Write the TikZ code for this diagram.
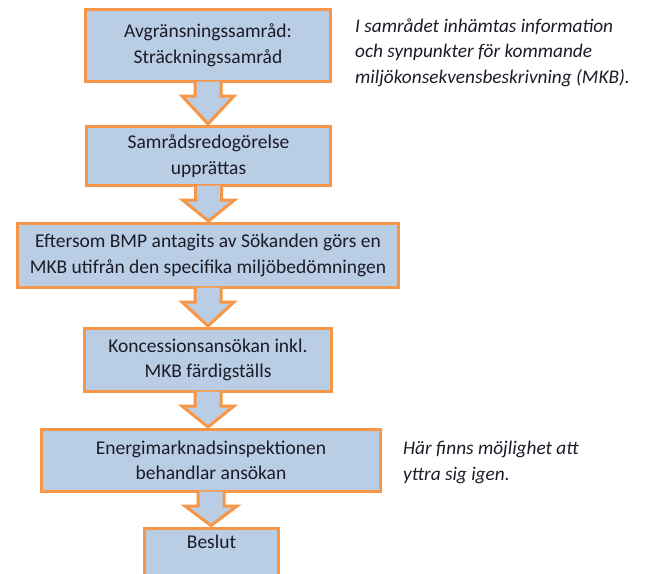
\documentclass[tikz,border=0pt]{standalone}
\usepackage{fontspec}
\setmainfont{Carlito}
\usetikzlibrary{calc}

\definecolor{stepfill}{HTML}{B9CDE5}
\definecolor{stepline}{HTML}{F79646}
\definecolor{steptext}{HTML}{1C1C28}

% block arrow from the bottom of one box to the top of the next
\newcommand{\flowarrow}[2]{%
  \draw[blockarrow] ($(#1.south)+(-13,1.5)$) -- ++(0,-14.5) -- ++(-13,0)
    -- ($(#1.south |- #2.north)+(0,1)$)
    -- ($(#1.south)+(26,-13)$) -- ++(-13,0) -- ++(0,14.5);}

\begin{document}
\begin{tikzpicture}[x=1pt,y=1pt,
    stepbox/.style={draw=stepline, fill=stepfill, line width=3pt, align=center,
      text=steptext, font=\fontsize{19.5}{25.5}\selectfont, inner sep=0pt},
    blockarrow/.style={draw=stepline, fill=stepfill, line width=3pt, line join=miter},
    sidenote/.style={align=left, anchor=north west, inner sep=0pt, text=steptext,
      font=\fontsize{19.3}{25.5}\selectfont\itshape}]
	\clip (0,0) rectangle (645,-573);
	\fill[white] (0,0) rectangle (645,-573);
	%
	\node[stepbox, minimum width=245pt, minimum height=72pt] (avgr) at (208,-45.5)
		{Avgränsningssamråd:\\Sträckningssamråd};
	\node[stepbox, minimum width=244pt, minimum height=59pt] (redog) at (208.5,-156)
		{Samrådsredogörelse\\upprättas};
	\node[stepbox, minimum width=381pt, minimum height=64pt] (mkb) at (208,-255.5)
		{Eftersom BMP antagits av Sökanden görs en\\MKB utifrån den specifika miljöbedömningen};
	\node[stepbox, minimum width=247pt, minimum height=63pt] (konc) at (208,-360)
		{Koncessionsansökan inkl.\\MKB färdigställs};
	\node[stepbox, minimum width=339pt, minimum height=62pt] (ei) at (211,-460.5)
		{Energimarknadsinspektionen\\behandlar ansökan};
	\node[stepbox, minimum width=134pt, anchor=north, inner ysep=7pt,
		text height=13pt, text depth=60pt] (beslut) at (211.5,-526.5) {Beslut};
	%
	\flowarrow{avgr}{redog}
	\flowarrow{redog}{mkb}
	\flowarrow{mkb}{konc}
	\flowarrow{konc}{ei}
	\flowarrow{ei}{beslut}
	%
	\node[sidenote] (info) at (355,-18.5)
		{I samrådet inhämtas information\\och synpunkter för kommande\\miljökonsekvensbeskrivning (MKB).};
	\node[sidenote] (yttra) at (403,-441)
		{Här finns möjlighet att\\yttra sig igen.};
\end{tikzpicture}
\end{document}
